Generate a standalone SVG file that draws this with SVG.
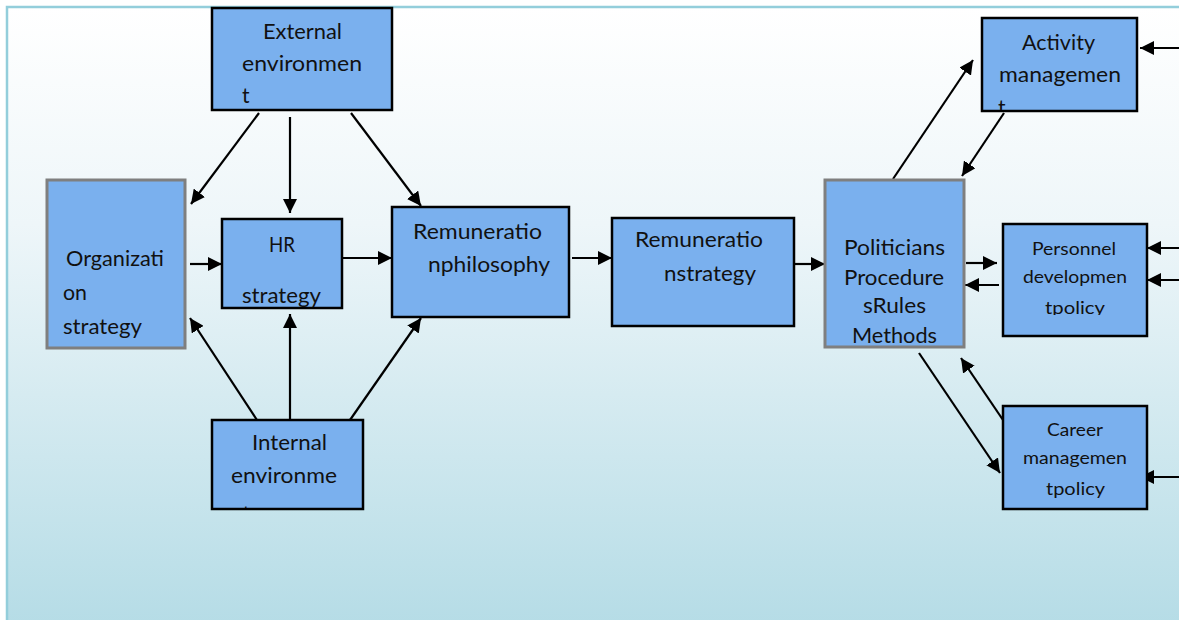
<svg xmlns="http://www.w3.org/2000/svg" width="1179" height="620" viewBox="0 0 1179 620">
  <defs>
    <linearGradient id="panelFill" x1="0" y1="0" x2="0" y2="1">
      <stop offset="0" stop-color="#ffffff"/>
      <stop offset="0.35" stop-color="#eef6f9"/>
      <stop offset="1" stop-color="#b5dce6"/>
    </linearGradient>
    <marker id="arrow" markerUnits="userSpaceOnUse" markerWidth="15" markerHeight="14" refX="14" refY="7" orient="auto">
      <path d="M0,0 L14,7 L0,14 z" fill="#000"/>
    </marker>
    <clipPath id="clipActivity"><rect x="982" y="18" width="155" height="92"/></clipPath>
    <clipPath id="clipPersonnel"><rect x="1003" y="224" width="144" height="91"/></clipPath>
    <clipPath id="clipInternal"><rect x="212" y="420" width="151" height="88"/></clipPath>
  </defs>
  <style>
    .box { fill: #7ab0ee; stroke: #000; stroke-width: 2.5; }
    .box-grey { fill: #7ab0ee; stroke: #7f7f7f; stroke-width: 3; }
    .label { font-family: Lato, "Liberation Sans", sans-serif; font-size: 21px; fill: #111; }
    .small { font-size: 17.5px; }
    .conn line { stroke: #000; stroke-width: 2.2; marker-end: url(#arrow); }
  </style>

  <!-- background panel -->
  <rect x="7" y="7" width="1180" height="620" fill="url(#panelFill)" stroke="#93cedb" stroke-width="2.5"/>

  <!-- connectors -->
  <g id="connectors" class="conn">
    <line x1="259" y1="113" x2="191" y2="204"/>
    <line x1="290" y1="117" x2="290" y2="213"/>
    <line x1="351" y1="113" x2="421" y2="206"/>
    <line x1="190" y1="264" x2="222" y2="264"/>
    <line x1="342" y1="258" x2="392" y2="258"/>
    <line x1="257" y1="420" x2="190" y2="318"/>
    <line x1="290" y1="420" x2="290" y2="314"/>
    <line x1="350" y1="420" x2="421" y2="318"/>
    <line x1="572" y1="258" x2="612" y2="258"/>
    <line x1="795" y1="264" x2="825" y2="264"/>
    <line x1="893" y1="179" x2="973" y2="60"/>
    <line x1="1004" y1="113" x2="962" y2="176"/>
    <line x1="966" y1="263" x2="997" y2="263"/>
    <line x1="999" y1="285" x2="965" y2="285"/>
    <line x1="919" y1="353" x2="1000" y2="473"/>
    <line x1="1003" y1="420" x2="961" y2="358"/>
    <line x1="1181" y1="48" x2="1140" y2="48"/>
    <line x1="1181" y1="248" x2="1147" y2="248"/>
    <line x1="1181" y1="280" x2="1147" y2="280"/>
    <line x1="1181" y1="477" x2="1140" y2="477"/>
  </g>

  <g id="external-environment">
    <rect class="box" x="212" y="8" width="180" height="102"/>
    <text class="label" x="263" y="39" textLength="79" lengthAdjust="spacingAndGlyphs">External</text>
    <text class="label" x="242" y="71" textLength="120" lengthAdjust="spacingAndGlyphs">environmen</text>
    <text class="label" x="242" y="103">t</text>
  </g>

  <g id="organization-strategy">
    <rect class="box-grey" x="47" y="180" width="138" height="168"/>
    <text class="label" x="66" y="266" textLength="98" lengthAdjust="spacingAndGlyphs">Organizati</text>
    <text class="label" x="63" y="300" textLength="24" lengthAdjust="spacingAndGlyphs">on</text>
    <text class="label" x="63" y="334" textLength="79" lengthAdjust="spacingAndGlyphs">strategy</text>
  </g>

  <g id="hr-strategy">
    <rect class="box" x="222" y="219" width="120" height="89"/>
    <text class="label" x="269" y="252" textLength="26" lengthAdjust="spacingAndGlyphs">HR</text>
    <text class="label" x="242" y="303" textLength="79" lengthAdjust="spacingAndGlyphs">strategy</text>
  </g>

  <g id="remuneration-philosophy">
    <rect class="box" x="392" y="207" width="177" height="110"/>
    <text class="label" x="413" y="239" textLength="129" lengthAdjust="spacingAndGlyphs">Remuneratio</text>
    <text class="label" x="428" y="272" textLength="122" lengthAdjust="spacingAndGlyphs">nphilosophy</text>
  </g>

  <g id="remuneration-strategy">
    <rect class="box" x="612" y="218" width="182" height="108"/>
    <text class="label" x="635" y="247" textLength="128" lengthAdjust="spacingAndGlyphs">Remuneratio</text>
    <text class="label" x="664" y="281" textLength="92" lengthAdjust="spacingAndGlyphs">nstrategy</text>
  </g>

  <g id="politicians-procedures">
    <rect class="box-grey" x="825" y="180" width="139" height="167"/>
    <text class="label" x="844" y="255" textLength="101" lengthAdjust="spacingAndGlyphs">Politicians</text>
    <text class="label" x="844" y="285" textLength="100" lengthAdjust="spacingAndGlyphs">Procedure</text>
    <text class="label" x="863" y="313" textLength="63" lengthAdjust="spacingAndGlyphs">sRules</text>
    <text class="label" x="852" y="343" textLength="85" lengthAdjust="spacingAndGlyphs">Methods</text>
  </g>

  <g id="activity-management">
    <rect class="box" x="982" y="18" width="155" height="93"/>
    <text class="label" x="1022" y="50" textLength="73" lengthAdjust="spacingAndGlyphs">Activity</text>
    <text class="label" x="999" y="82" textLength="122" lengthAdjust="spacingAndGlyphs">managemen</text>
    <text class="label" x="998" y="115" clip-path="url(#clipActivity)">t</text>
  </g>

  <g id="personnel-development">
    <rect class="box" x="1003" y="224" width="144" height="112"/>
    <text class="label small" x="1032" y="255" textLength="84" lengthAdjust="spacingAndGlyphs">Personnel</text>
    <text class="label small" x="1023" y="283" textLength="104" lengthAdjust="spacingAndGlyphs">developmen</text>
    <text class="label small" x="1045" y="314" textLength="60" lengthAdjust="spacingAndGlyphs" clip-path="url(#clipPersonnel)">tpolicy</text>
  </g>

  <g id="career-management">
    <rect class="box" x="1003" y="406" width="144" height="103"/>
    <text class="label small" x="1047" y="436" textLength="56" lengthAdjust="spacingAndGlyphs">Career</text>
    <text class="label small" x="1023" y="464" textLength="104" lengthAdjust="spacingAndGlyphs">managemen</text>
    <text class="label small" x="1046" y="495" textLength="59" lengthAdjust="spacingAndGlyphs">tpolicy</text>
  </g>

  <g id="internal-environment">
    <rect class="box" x="212" y="420" width="151" height="89"/>
    <text class="label" x="252" y="450" textLength="75" lengthAdjust="spacingAndGlyphs">Internal</text>
    <text class="label" x="231" y="483" textLength="106" lengthAdjust="spacingAndGlyphs">environme</text>
    <text class="label" x="231" y="521" clip-path="url(#clipInternal)">nt</text>
  </g>
</svg>
